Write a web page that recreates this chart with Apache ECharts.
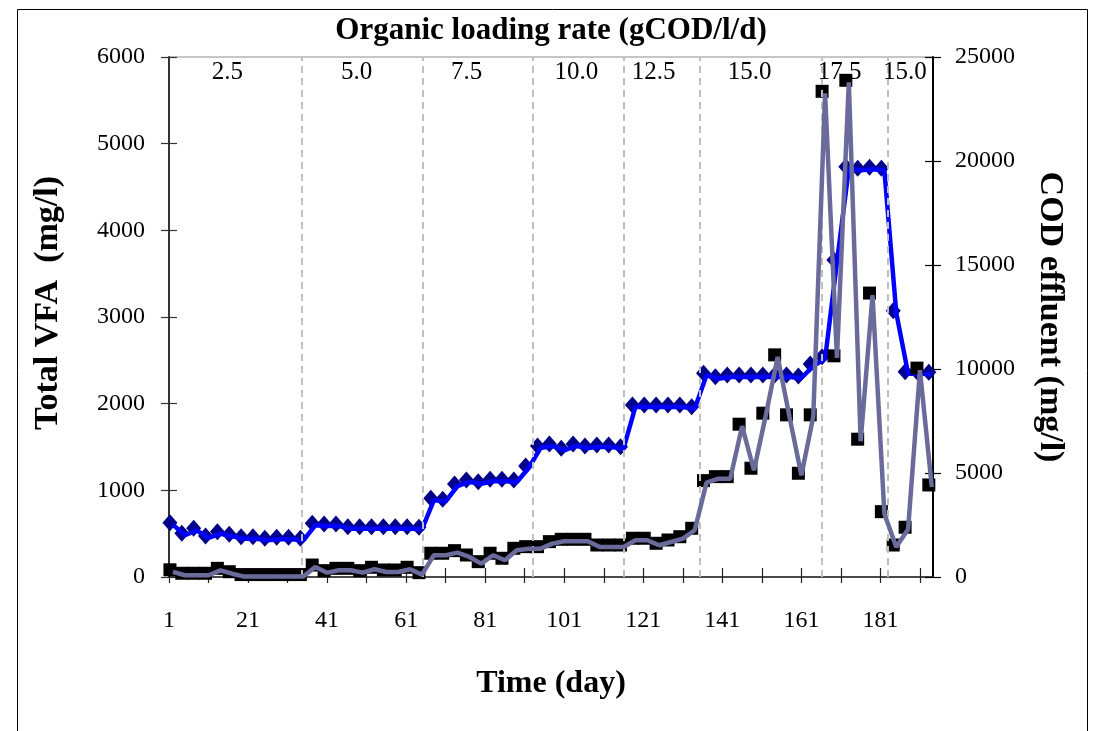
<!DOCTYPE html>
<html><head><meta charset="utf-8">
<script src="https://cdn.jsdelivr.net/npm/echarts@6/dist/echarts.min.js"></script>
<style>html,body{margin:0;padding:0;background:#fff}#c{width:1097px;height:731px}</style>
</head><body><div id="c"></div>
<script>
// ---- data ----
const days = [2,5,8,11,14,17,20,23,26,29,32,35,38,41,44,47,50,53,56,59,62,65,68,71,74,77,80,83,86,89,92,95,98,101,104,107,110,113,116,119,122,125,128,131,134,137,140,143,146,149,152,155,158,161,164,167,170,173,176,179,182,185,188,191,194];
const totalVFA = [60,20,20,20,77,38,5,5,5,5,5,5,115,50,77,77,50,89,58,58,89,27,251,251,281,231,154,251,193,308,327,327,385,412,412,412,346,346,346,424,424,366,404,442,539,1089,1135,1135,1740,1232,1867,2540,1848,1174,1848,5581,2529,5708,1567,3253,731,346,551,2387,1039];
const codEffluent = [2515,2005,2245,1875,2082,1957,1841,1841,1765,1813,1813,1765,2486,2452,2452,2322,2322,2322,2322,2322,2322,2293,3688,3640,4375,4568,4486,4601,4601,4568,5241,6202,6298,6092,6298,6202,6250,6250,6169,8174,8174,8174,8174,8174,8092,9698,9534,9616,9616,9616,9616,9616,9616,9568,10145,10496,15145,19631,19554,19602,19554,12708,9775,9775,9746];
const phaseBoundaries = [34.7, 65.2, 93.0, 116.0, 135.2, 166.2, 182.8];
const olrLabels = ['2.5','5.0','7.5','10.0','12.5','15.0','17.5','15.0'];
const olrLabelDays = [15.8, 48.5, 76.3, 104.1, 123.6, 147.9, 170.7, 187.2];
const xTickDays = [1,11,21,31,41,51,61,71,81,91,101,111,121,131,141,151,161,171,181,191];
const xLabelDays = [1,21,41,61,81,101,121,141,161,181];

const FONT = '"Liberation Serif","Times New Roman",serif';
const chart = echarts.init(document.getElementById('c'), null, {renderer:'canvas'});
const pairs = (arr) => days.map((d,i)=>[d, arr[i]]);
const olrY = 5820;
const plain = v => String(Math.round(v));

const baseX = {type:'value', min:1, max:194.3, position:'bottom', splitLine:{show:false}};
const baseYL = {type:'value', min:0, max:6000, interval:1000, position:'left', splitLine:{show:false}};
const baseYR = {type:'value', min:0, max:25000, interval:5000, position:'right', splitLine:{show:false}};

chart.setOption({
  animation:false,
  backgroundColor:'#fff',
  grid:{left:169, right:164, top:57, bottom:154, show:true, borderColor:'#8c8c8c', borderWidth:1, backgroundColor:'transparent'},
  xAxis:[
    Object.assign({}, baseX, {
      axisLine:{show:true, onZero:false, lineStyle:{color:'#222', width:1.5}},
      axisTick:{show:true, inside:false, length:6, customValues:xTickDays, lineStyle:{color:'#222', width:1.2}},
      axisLabel:{show:true, customValues:xLabelDays, margin:32, fontFamily:FONT, fontSize:24, color:'#000', formatter:plain}
    }),
    Object.assign({}, baseX, {
      axisLine:{show:false, onZero:false},
      axisTick:{show:true, inside:true, length:9, customValues:xTickDays, lineStyle:{color:'#222', width:1.2}},
      axisLabel:{show:false}
    })
  ],
  yAxis:[
    Object.assign({}, baseYL, {
      axisLine:{show:true, onZero:false, lineStyle:{color:'#333', width:2}},
      axisTick:{show:true, inside:false, length:8, lineStyle:{color:'#333', width:1.2}},
      axisLabel:{margin:24, fontFamily:FONT, fontSize:24, color:'#000', formatter:plain}
    }),
    Object.assign({}, baseYR, {
      axisLine:{show:true, onZero:false, lineStyle:{color:'#000', width:2}},
      axisTick:{show:true, inside:false, length:8, lineStyle:{color:'#000', width:1.2}},
      axisLabel:{margin:22, fontFamily:FONT, fontSize:24, color:'#000', formatter:plain}
    }),
    Object.assign({}, baseYL, {
      axisLine:{show:false}, axisLabel:{show:false},
      axisTick:{show:true, inside:true, length:8, lineStyle:{color:'#333', width:1.2}}
    }),
    Object.assign({}, baseYR, {
      axisLine:{show:false}, axisLabel:{show:false},
      axisTick:{show:true, inside:true, length:8, lineStyle:{color:'#000', width:1.2}}
    })
  ],
  series:[
    { name:'COD effluent markers', type:'scatter', xAxisIndex:0, yAxisIndex:1, data:pairs(codEffluent),
      symbol:'diamond', symbolSize:[15,17], symbolOffset:[-3,-2], itemStyle:{color:'#00008b', opacity:1}, z:2, silent:true },
    { name:'COD effluent', type:'line', xAxisIndex:0, yAxisIndex:1, data:pairs(codEffluent),
      showSymbol:false, symbol:'none', lineStyle:{color:'#0000ff', width:4.5}, z:3, silent:true },
    { name:'Total VFA markers', type:'scatter', xAxisIndex:0, yAxisIndex:0, data:pairs(totalVFA),
      symbol:'rect', symbolSize:13, symbolOffset:[-3,-2], itemStyle:{color:'#000', opacity:1}, z:4, silent:true },
    { name:'Total VFA', type:'line', xAxisIndex:0, yAxisIndex:0, data:pairs(totalVFA),
      showSymbol:false, symbol:'none', lineStyle:{color:'#6b6b9b', width:4.5}, z:5, silent:true },
    { name:'phases', type:'line', xAxisIndex:0, yAxisIndex:0, data:[], z:10, silent:true,
      markLine:{ silent:true, symbol:['none','none'], label:{show:false},
        lineStyle:{color:'#c0c0c0', width:2, type:[7,5]},
        data: phaseBoundaries.map(d=>({xAxis:d})) } },
    { name:'OLR', type:'scatter', xAxisIndex:0, yAxisIndex:0, symbolSize:0, z:11, silent:true,
      itemStyle:{opacity:1},
      data: olrLabelDays.map((d,i)=>({value:[d, olrY], name:olrLabels[i]})),
      label:{show:true, position:'inside', formatter:p=>p.name, fontFamily:FONT, fontSize:25, color:'#000'} }
  ],
  graphic:[
    {type:'rect', shape:{x:17.5, y:9.5, width:1070, height:740}, style:{fill:'none', stroke:'#000', lineWidth:1}, silent:true},
    {type:'text', x:551, y:31, style:{text:'Organic loading rate (gCOD/l/d)', align:'center', verticalAlign:'middle', fontFamily:FONT, fontSize:31, fontWeight:'bold', fill:'#000'}},
    {type:'text', x:551, y:684, style:{text:'Time (day)', align:'center', verticalAlign:'middle', fontFamily:FONT, fontSize:32, fontWeight:'bold', fill:'#000'}},
    {type:'text', x:48, y:303, rotation:Math.PI/2, style:{text:'Total VFA  (mg/l)', align:'center', verticalAlign:'middle', fontFamily:FONT, fontSize:34, fontWeight:'bold', fill:'#000'}},
    {type:'text', x:1050, y:317, rotation:-Math.PI/2, style:{text:'COD effluent (mg/l)', align:'center', verticalAlign:'middle', fontFamily:FONT, fontSize:34, fontWeight:'bold', fill:'#000'}}
  ]
});
</script></body></html>
